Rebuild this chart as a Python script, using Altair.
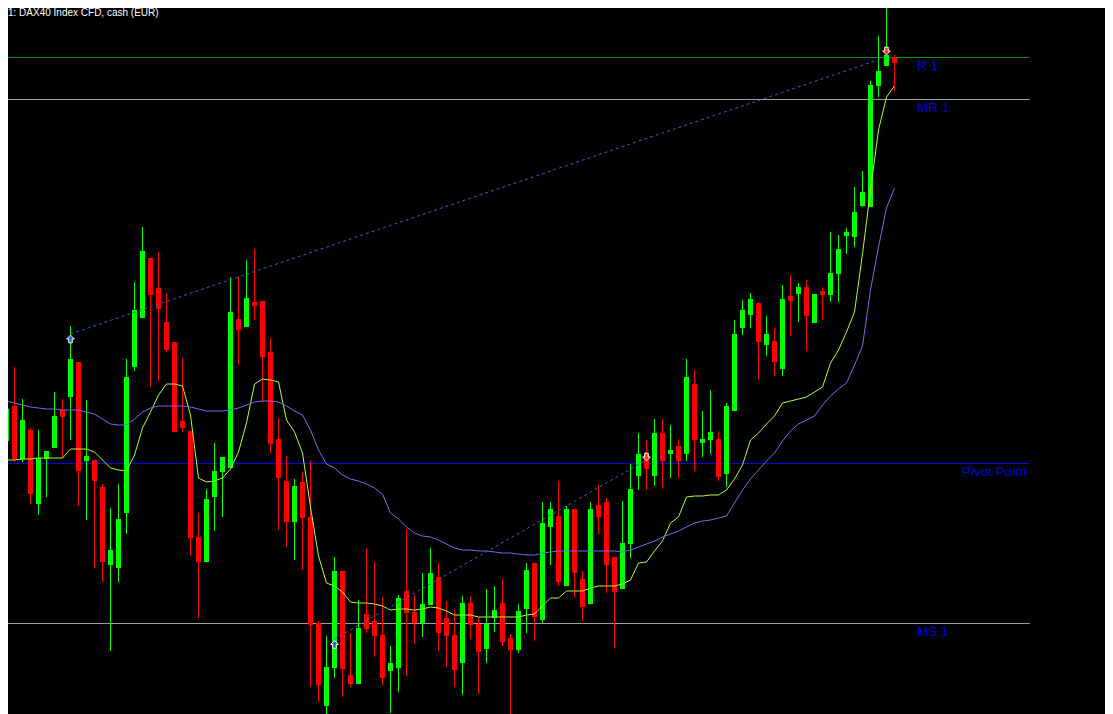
import altair as alt
import pandas as pd

# ---------------- data (bar index, prices in index points) ----------------
bars = list(range(-1, 112))

highs = [18360,
    18415, 18433, 18401, 18372, 18370, 18349, 18408, 18401, 18474, 18438,
    18400, 18340, 18316, 18292, 18316, 18441, 18518, 18573, 18542, 18548,
    18507, 18458, 18442, 18369, 18287, 18311, 18357, 18343, 18523, 18523,
    18540, 18551, 18499, 18462, 18382, 18344, 18321, 18328, 18339, 18179,
    18164, 18243, 18229, 18167, 18200, 18252, 18238, 18203, 18154, 18205,
    18271, 18205, 18227, 18252, 18237, 18199, 18190, 18204, 18204, 18183,
    18211, 18214, 18221, 18166, 18196, 18237, 18237, 18298, 18298, 18319,
    18294, 18291, 18229, 18298, 18315, 18302, 18243, 18299, 18336, 18367,
    18360, 18381, 18381, 18375, 18361, 18441, 18430, 18389, 18410, 18369,
    18397, 18480, 18500, 18507, 18497, 18484, 18473, 18515, 18525, 18517,
    18520, 18506, 18513, 18568, 18565, 18572, 18613, 18629, 18719, 18764,
    18797, 18745]

opens = [18285,
    18359, 18394, 18341, 18370, 18296, 18341, 18352, 18390, 18403, 18438,
    18339, 18340, 18313, 18235, 18232, 18287, 18433, 18482, 18542, 18512,
    18478, 18458, 18379, 18369, 18263, 18238, 18303, 18328, 18332, 18481,
    18473, 18498, 18499, 18448, 18361, 18319, 18278, 18318, 18283, 18177,
    18094, 18132, 18229, 18125, 18116, 18186, 18179, 18165, 18129, 18132,
    18209, 18188, 18177, 18195, 18223, 18182, 18165, 18137, 18197, 18176,
    18151, 18182, 18197, 18162, 18150, 18191, 18237, 18180, 18273, 18284,
    18214, 18291, 18221, 18196, 18295, 18298, 18243, 18211, 18256, 18324,
    18345, 18324, 18367, 18346, 18354, 18346, 18416, 18357, 18360, 18361,
    18326, 18389, 18472, 18485, 18497, 18455, 18459, 18431, 18504, 18506,
    18513, 18477, 18509, 18505, 18526, 18564, 18563, 18594, 18593, 18714,
    18734, 18742]

closes = [18360,
    18391, 18341, 18380, 18306, 18342, 18349, 18384, 18383, 18441, 18329,
    18344, 18319, 18238, 18250, 18281, 18423, 18490, 18549, 18505, 18491,
    18450, 18368, 18372, 18262, 18238, 18301, 18329, 18343, 18488, 18470,
    18502, 18494, 18443, 18356, 18322, 18278, 18314, 18282, 18175, 18115,
    18133, 18229, 18131, 18116, 18172, 18171, 18164, 18122, 18137, 18202,
    18187, 18177, 18196, 18227, 18167, 18164, 18130, 18197, 18175, 18148,
    18176, 18190, 18158, 18150, 18189, 18230, 18183, 18277, 18291, 18218,
    18291, 18227, 18193, 18291, 18283, 18235, 18208, 18257, 18311, 18346,
    18331, 18367, 18339, 18350, 18339, 18423, 18360, 18361, 18368, 18323,
    18394, 18466, 18490, 18501, 18458, 18466, 18438, 18501, 18499, 18513,
    18484, 18506, 18505, 18527, 18551, 18568, 18588, 18608, 18715, 18729,
    18745, 18737]

lows = [18285,
    18334, 18338, 18338, 18296, 18285, 18303, 18352, 18342, 18360, 18294,
    18280, 18232, 18218, 18149, 18218, 18266, 18429, 18482, 18413, 18419,
    18448, 18368, 18368, 18244, 18182, 18238, 18269, 18283, 18332, 18435,
    18473, 18480, 18398, 18347, 18270, 18253, 18240, 18230, 18113, 18098,
    18086, 18122, 18103, 18113, 18116, 18167, 18143, 18115, 18087, 18108,
    18124, 18156, 18163, 18195, 18149, 18133, 18113, 18105, 18161, 18106,
    18137, 18168, 18154, 18086, 18147, 18167, 18159, 18177, 18235, 18214,
    18214, 18203, 18179, 18196, 18266, 18207, 18152, 18211, 18242, 18310,
    18310, 18314, 18311, 18322, 18322, 18339, 18329, 18343, 18346, 18319,
    18313, 18389, 18465, 18472, 18420, 18444, 18424, 18424, 18464, 18478,
    18449, 18477, 18480, 18498, 18498, 18546, 18553, 18593, 18593, 18703,
    18734, 18709]

fast_ma = [18340,
    18340, 18340, 18341, 18341, 18342, 18342, 18342, 18342, 18351, 18351,
    18351, 18348, 18340, 18332, 18330, 18329, 18345, 18372, 18388, 18405,
    18416, 18416, 18414, 18385, 18322, 18318, 18319, 18322, 18331, 18348,
    18377, 18416, 18421, 18420, 18418, 18380, 18368, 18347, 18293, 18244,
    18217, 18214, 18208, 18198, 18197, 18197, 18196, 18194, 18190, 18191,
    18191, 18190, 18191, 18193, 18192, 18189, 18185, 18185, 18185, 18183,
    18183, 18183, 18183, 18183, 18183, 18185, 18186, 18194, 18202, 18202,
    18209, 18209, 18209, 18212, 18214, 18214, 18214, 18216, 18220, 18237,
    18238, 18249, 18259, 18277, 18283, 18303, 18304, 18304, 18305, 18305,
    18310, 18321, 18335, 18360, 18367, 18376, 18384, 18397, 18399, 18401,
    18403, 18408, 18413, 18437, 18450, 18468, 18488, 18546, 18610, 18670,
    18703, 18714]

slow_ma = [18400,
    18399, 18397, 18395, 18393, 18392, 18391, 18391, 18390, 18390, 18390,
    18388, 18386, 18381, 18376, 18375, 18375, 18381, 18388, 18392, 18394,
    18394, 18394, 18394, 18393, 18391, 18389, 18389, 18389, 18390, 18392,
    18395, 18398, 18399, 18399, 18398, 18394, 18389, 18385, 18370, 18350,
    18336, 18332, 18325, 18321, 18319, 18316, 18312, 18306, 18287, 18281,
    18273, 18267, 18264, 18263, 18260, 18256, 18252, 18250, 18250, 18249,
    18249, 18248, 18247, 18247, 18246, 18245, 18245, 18247, 18248, 18249,
    18249, 18249, 18249, 18249, 18249, 18249, 18249, 18248, 18250, 18253,
    18256, 18259, 18263, 18266, 18269, 18273, 18277, 18279, 18280, 18282,
    18284, 18297, 18310, 18321, 18330, 18339, 18347, 18359, 18369, 18376,
    18380, 18384, 18395, 18404, 18411, 18417, 18435, 18454, 18510, 18553,
    18592, 18612]

level_names = ["R 1", "MR 1", "Pivot Point", "MS 1"]
level_values = [18743, 18701, 18337, 18177]
level_colors = ["#009000", "#A0A0A0", "#0000F0", "#A0A0A0"]
level_label_bar = [113.8, 113.8, 119.45, 113.8]
level_start_bar = -2
level_end_bar = 127.9

trend_ids = ["A", "B"]
trend_from_bar = [8, 41]
trend_from_price = [18466, 18161]
trend_to_bar = [110, 80]
trend_to_price = [18743, 18340]

arrow_bars = [8, 41, 80, 110]
arrow_prices = [18461, 18155.5, 18343, 18749]
arrow_kinds = ["buy", "buy", "sell", "sell"]

title_text = "1: DAX40 Index CFD, cash (EUR)"

# ---------------- tables ----------------
candles = pd.DataFrame({"bar": bars, "open": opens, "high": highs,
                        "low": lows, "close": closes})
candles["col"] = ["#00FF00" if c >= o else "#FF0000" for o, c in zip(opens, closes)]
candles["top"] = candles[["open", "close"]].max(axis=1)
candles["bot"] = candles[["open", "close"]].min(axis=1)
candles.loc[candles["top"] == candles["bot"], "bot"] = candles["top"] - 1

ma = pd.DataFrame({"bar": bars, "fast": fast_ma, "slow": slow_ma})

levels = pd.DataFrame({"name": level_names, "value": level_values,
                       "col": level_colors, "lbar": level_label_bar})
levels["x1"] = level_start_bar
levels["x2"] = level_end_bar
levels["v2"] = levels["value"] - 1

trend_rows = []
for i, t in enumerate(trend_ids):
    trend_rows.append({"id": t, "bar": trend_from_bar[i], "price": trend_from_price[i]})
    trend_rows.append({"id": t, "bar": trend_to_bar[i], "price": trend_to_price[i]})
trends = pd.DataFrame(trend_rows)

arrows = pd.DataFrame({"bar": arrow_bars, "price": arrow_prices, "kind": arrow_kinds})

W, H = 1097, 706
xs = alt.Scale(domain=[0.1875, 0.1875 + W / 8], nice=False, zero=False)
ys = alt.Scale(domain=[18086, 18792], nice=False, zero=False)

def X(f):
    return alt.X(f, type="quantitative", scale=xs, axis=None)

def Y(f):
    return alt.Y(f, type="quantitative", scale=ys, axis=None)

level_lines = alt.Chart(levels).mark_rect(clip=True).encode(
    x=X("x1"), x2="x2", y=Y("value"), y2="v2",
    color=alt.Color("col:N", scale=None))

level_labels = alt.Chart(levels).mark_text(
    align="left", baseline="alphabetic", dy=13, font="Liberation Sans",
    fontSize=13.5, color="#0000D8").encode(x=X("lbar"), y=Y("value"), text="name:N")

wicks = alt.Chart(candles).mark_rule(clip=True, strokeWidth=1).encode(
    x=X("bar"), y=Y("low"), y2="high", color=alt.Color("col:N", scale=None))

bodies = alt.Chart(candles).transform_calculate(
    bx1="datum.bar - 0.3125", bx2="datum.bar + 0.3125").mark_rect(clip=True).encode(
    x=X("bx1"), x2="bx2", y=Y("bot"), y2="top", color=alt.Color("col:N", scale=None))

fast_line = alt.Chart(ma).mark_line(clip=True, strokeWidth=1, color="#ADFF2F").encode(
    x=X("bar"), y=Y("fast"))
slow_line = alt.Chart(ma).mark_line(clip=True, strokeWidth=1, color="#7B68EE").encode(
    x=X("bar"), y=Y("slow"))

trend_lines = alt.Chart(trends).mark_line(
    clip=True, strokeWidth=1, strokeDash=[3, 3], color="#1F6FC0").encode(
    x=X("bar"), y=Y("price"), detail="id:N")

up_path = "M0,-1L1,0L0.45,0L0.45,1L-0.45,1L-0.45,0L-1,0Z"
down_path = "M0,1L1,0L0.45,0L0.45,-1L-0.45,-1L-0.45,0L-1,0Z"
buy_arrows = alt.Chart(arrows).transform_filter("datum.kind == 'buy'").mark_point(
    shape=up_path, filled=True, fill="#1F6FC0", stroke="#FFFFFF", strokeWidth=1,
    size=60, opacity=1).encode(x=X("bar"), y=Y("price"))
sell_arrows = alt.Chart(arrows).transform_filter("datum.kind == 'sell'").mark_point(
    shape=down_path, filled=True, fill="#E2401C", stroke="#FFFFFF", strokeWidth=1,
    size=60, opacity=1).encode(x=X("bar"), y=Y("price"))

title = alt.Chart(pd.DataFrame({"t": [title_text]})).mark_text(
    align="left", baseline="alphabetic", font="Liberation Sans", fontSize=10,
    color="#FFFFFF").encode(x=alt.value(0), y=alt.value(8), text="t:N")

chart = alt.layer(
    level_lines, wicks, bodies, fast_line, slow_line, trend_lines,
    buy_arrows, sell_arrows, level_labels, title
).properties(
    width=W, height=H, background="#000000", padding=0,
    autosize=alt.AutoSizeParams(type="none")
).configure_view(stroke=None)

chart.save("out.html", embed_options={"renderer": "svg", "actions": False})
